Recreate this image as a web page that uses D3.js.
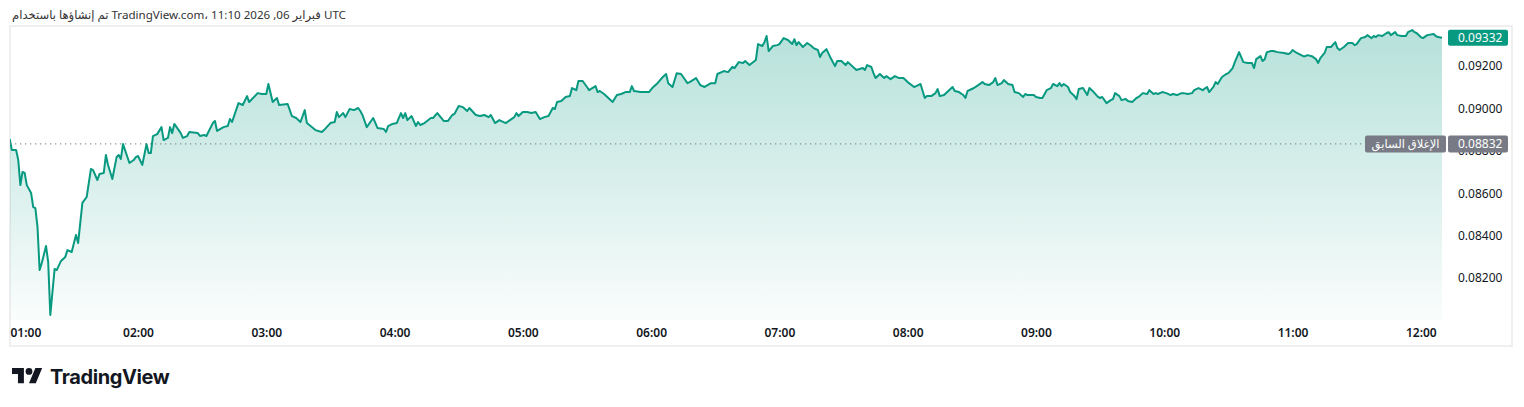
<!DOCTYPE html>
<html lang="ar">
<head>
  <meta charset="UTF-8">
  <title>TradingView snapshot</title>
  <script src="https://d3js.org/d3.v7.min.js"></script>
  <style>
    body {
      margin: 0;
      background: #fff;
      font-family: 'Noto Sans', 'DejaVu Sans', sans-serif;
    }
    svg { display: block; }
  </style>
</head>
<body>
  <svg width="1524" height="407"></svg>

  <script>
    // price series (time of day, price)
    const times = [
      "01:00","01:01","01:03","01:04","01:05","01:06","01:07","01:08","01:10","01:11","01:12","01:13","01:14","01:15","01:17","01:18","01:19","01:21","01:22","01:24",
      "01:26","01:27","01:29","01:31","01:32","01:34","01:36","01:38","01:39","01:41","01:42","01:44","01:45","01:46","01:48","01:50","01:51","01:52","01:53","01:56",
      "01:58","01:59","02:00","02:02","02:04","02:05","02:06","02:07","02:09","02:11","02:12","02:14","02:15","02:16","02:17","02:20","02:21","02:23","02:24","02:28",
      "02:29","02:31","02:32","02:35","02:36","02:37","02:40","02:42","02:43","02:44","02:47","02:49","02:51","02:52","02:56","02:58","03:00","03:01","03:03","03:05",
      "03:06","03:10","03:12","03:14","03:16","03:18","03:19","03:23","03:26","03:27","03:30","03:32","03:33","03:34","03:36","03:37","03:39","03:41","03:43","03:44",
      "03:45","03:47","03:50","03:52","03:55","03:56","03:57","03:59","04:01","04:03","04:04","04:05","04:06","04:08","04:10","04:11","04:12","04:14","04:17","04:18",
      "04:20","04:23","04:25","04:27","04:28","04:30","04:32","04:34","04:35","04:38","04:40","04:42","04:44","04:45","04:47","04:49","04:52","04:54","04:56","04:57",
      "04:58","05:00","05:02","05:04","05:06","05:08","05:10","05:12","05:14","05:15","05:16","05:18","05:20","05:22","05:23","05:25","05:26","05:28","05:30","05:31",
      "05:34","05:35","05:36","05:38","05:40","05:42","05:44","05:46","05:48","05:50","05:51","05:52","05:55","05:57","05:59","06:01","06:03","06:05","06:07","06:08",
      "06:10","06:12","06:14","06:17","06:18","06:21","06:23","06:25","06:28","06:30","06:31","06:34","06:36","06:38","06:39","06:41","06:43","06:44","06:46","06:49",
      "06:50","06:52","06:53","06:54","06:55","06:57","06:59","07:00","07:02","07:04","07:06","07:07","07:08","07:09","07:11","07:13","07:15","07:16","07:18","07:19",
      "07:20","07:22","07:24","07:26","07:27","07:29","07:31","07:32","07:35","07:36","07:39","07:40","07:41","07:43","07:44","07:45","07:47","07:49","07:50","07:52",
      "07:54","07:56","07:58","08:00","08:03","08:04","08:06","08:08","08:09","08:11","08:13","08:14","08:15","08:17","08:19","08:21","08:22","08:24","08:26","08:27",
      "08:28","08:31","08:33","08:35","08:36","08:38","08:40","08:41","08:42","08:44","08:45","08:47","08:49","08:50","08:52","08:54","08:55","08:56","08:59","09:00",
      "09:02","09:03","09:05","09:07","09:08","09:10","09:11","09:12","09:13","09:15","09:16","09:18","09:19","09:20","09:22","09:24","09:25","09:27","09:29","09:30",
      "09:31","09:33","09:35","09:36","09:37","09:39","09:40","09:42","09:43","09:45","09:47","09:48","09:50","09:52","09:53","09:55","09:56","09:57","09:59","10:01",
      "10:03","10:04","10:06","10:08","10:09","10:11","10:13","10:14","10:16","10:17","10:18","10:20","10:21","10:23","10:24","10:25","10:27","10:29","10:30","10:32",
      "10:33","10:34","10:35","10:37","10:39","10:41","10:42","10:43","10:45","10:46","10:47","10:48","10:50","10:51","10:53","10:56","10:58","10:59","11:00","11:02",
      "11:05","11:06","11:07","11:09","11:11","11:12","11:13","11:15","11:16","11:18","11:20","11:21","11:22","11:24","11:26","11:28","11:29","11:30","11:32","11:34",
      "11:35","11:37","11:38","11:39","11:40","11:42","11:44","11:45","11:46","11:48","11:49","11:51","11:53","11:54","11:56","11:57","11:58","12:00","12:01","12:03",
      "12:06","12:07","12:08","12:10"
    ];
    const prices = [
      0.08855,0.08803,0.08803,0.08756,0.08638,0.08700,0.08695,0.08638,0.08601,0.08535,0.08530,0.08441,0.08238,0.08271,0.08351,0.08276,0.08027,0.08243,0.08238,0.08281,
      0.08300,0.08332,0.08323,0.08403,0.08365,0.08554,0.08582,0.08714,0.08709,0.08662,0.08690,0.08695,0.08780,0.08733,0.08667,0.08770,0.08780,0.08761,0.08831,0.08742,
      0.08756,0.08770,0.08775,0.08733,0.08831,0.08789,0.08789,0.08869,0.08878,0.08911,0.08850,0.08860,0.08911,0.08883,0.08926,0.08883,0.08860,0.08869,0.08888,0.08883,
      0.08869,0.08874,0.08869,0.08930,0.08940,0.08893,0.08911,0.08916,0.08949,0.08935,0.09024,0.09015,0.09057,0.09029,0.09071,0.09067,0.09067,0.09114,0.09029,0.09048,
      0.09015,0.09020,0.08963,0.08954,0.08935,0.08991,0.08930,0.08897,0.08888,0.08897,0.08930,0.08935,0.08982,0.08958,0.08977,0.08958,0.08996,0.08991,0.09001,0.08987,
      0.08968,0.08911,0.08954,0.08907,0.08902,0.08888,0.08916,0.08926,0.08930,0.08977,0.08954,0.08977,0.08944,0.08963,0.08916,0.08935,0.08921,0.08930,0.08954,0.08954,
      0.08977,0.08940,0.08940,0.08968,0.08973,0.09010,0.09005,0.08987,0.09001,0.08968,0.08963,0.08968,0.08958,0.08968,0.08930,0.08944,0.08930,0.08944,0.08958,0.08977,
      0.08963,0.08982,0.08982,0.08977,0.08982,0.08949,0.08958,0.08963,0.09001,0.08996,0.09029,0.09034,0.09053,0.09057,0.09095,0.09085,0.09128,0.09128,0.09100,0.09085,
      0.09104,0.09076,0.09081,0.09067,0.09048,0.09029,0.09062,0.09067,0.09076,0.09076,0.09104,0.09081,0.09076,0.09076,0.09076,0.09100,0.09118,0.09142,0.09161,0.09118,
      0.09100,0.09165,0.09161,0.09118,0.09123,0.09142,0.09109,0.09100,0.09118,0.09118,0.09161,0.09175,0.09170,0.09194,0.09189,0.09217,0.09213,0.09222,0.09203,0.09227,
      0.09302,0.09293,0.09311,0.09340,0.09269,0.09293,0.09297,0.09302,0.09330,0.09321,0.09302,0.09325,0.09297,0.09311,0.09288,0.09307,0.09293,0.09283,0.09274,0.09241,
      0.09260,0.09278,0.09236,0.09198,0.09222,0.09222,0.09203,0.09217,0.09189,0.09180,0.09189,0.09180,0.09203,0.09194,0.09165,0.09142,0.09161,0.09142,0.09151,0.09137,
      0.09151,0.09142,0.09142,0.09123,0.09100,0.09104,0.09114,0.09048,0.09057,0.09057,0.09071,0.09090,0.09057,0.09062,0.09081,0.09100,0.09081,0.09076,0.09062,0.09048,
      0.09081,0.09095,0.09109,0.09123,0.09114,0.09109,0.09123,0.09142,0.09109,0.09118,0.09133,0.09114,0.09109,0.09076,0.09071,0.09053,0.09067,0.09062,0.09062,0.09053,
      0.09048,0.09048,0.09085,0.09095,0.09114,0.09104,0.09118,0.09104,0.09114,0.09100,0.09076,0.09057,0.09043,0.09090,0.09095,0.09062,0.09095,0.09076,0.09053,0.09048,
      0.09053,0.09024,0.09038,0.09043,0.09071,0.09057,0.09038,0.09043,0.09034,0.09029,0.09048,0.09053,0.09071,0.09067,0.09085,0.09067,0.09071,0.09067,0.09076,0.09071,
      0.09062,0.09067,0.09062,0.09071,0.09071,0.09067,0.09071,0.09085,0.09095,0.09090,0.09085,0.09100,0.09076,0.09100,0.09123,0.09114,0.09147,0.09161,0.09165,0.09189,
      0.09217,0.09241,0.09264,0.09217,0.09213,0.09213,0.09189,0.09231,0.09245,0.09222,0.09231,0.09264,0.09269,0.09269,0.09264,0.09260,0.09255,0.09260,0.09274,0.09260,
      0.09245,0.09245,0.09250,0.09245,0.09231,0.09213,0.09236,0.09260,0.09288,0.09288,0.09311,0.09283,0.09274,0.09288,0.09307,0.09307,0.09297,0.09302,0.09330,0.09335,
      0.09344,0.09330,0.09340,0.09335,0.09344,0.09340,0.09354,0.09358,0.09344,0.09358,0.09344,0.09340,0.09340,0.09358,0.09368,0.09358,0.09354,0.09335,0.09330,0.09344,
      0.09349,0.09340,0.09335,0.09332
    ];
    const prevClose = 0.08832;
    const priceTicks = [0.082, 0.084, 0.086, 0.088, 0.090, 0.092];
    const timeTicks = ["01:00","02:00","03:00","04:00","05:00","06:00","07:00","08:00","09:00","10:00","11:00","12:00"];
    const headerText = "تم إنشاؤها باستخدام TradingView.com، 11:10 2026 ,06 فبراير UTC";
    const prevCloseLabel = "الإغلاق السابق";

    const green = "#089981";
    const grey = "#787b86";
    const ink = "#131722";

    const parse = d3.timeParse("%H:%M");
    const data = times.map((t, i) => ({ t: parse(t), v: prices[i] }));

    const svg = d3.select("svg");
    const plot = { left: 10, right: 1442, top: 26, bottom: 320 };

    const x = d3.scaleTime()
      .domain(d3.extent(data, d => d.t))
      .range([9.7, 1442.2]);
    const y = d3.scaleLinear()
      .domain([0.08003, 0.09387])
      .range([plot.bottom, plot.top]);

    // header
    svg.append("text")
      .attr("x", 12).attr("y", 19)
      .attr("direction", "ltr")
      .attr("font-size", 11.6)
      .attr("fill", "#333")
      .text(headerText);

    // frame
    svg.append("rect")
      .attr("x", 10).attr("y", 26)
      .attr("width", 1502).attr("height", 320)
      .attr("fill", "none")
      .attr("stroke", "#efefef")
      .attr("stroke-width", 2);

    const defs = svg.append("defs");
    const grad = defs.append("linearGradient")
      .attr("id", "fillGrad")
      .attr("gradientUnits", "userSpaceOnUse")
      .attr("x1", 0).attr("x2", 0)
      .attr("y1", plot.top).attr("y2", plot.bottom);
    grad.append("stop").attr("offset", "0%").attr("stop-color", green).attr("stop-opacity", 0.3);
    grad.append("stop").attr("offset", "100%").attr("stop-color", green).attr("stop-opacity", 0.02);

    defs.append("clipPath").attr("id", "plotClip")
      .append("rect")
      .attr("x", plot.left).attr("y", plot.top)
      .attr("width", plot.right - plot.left).attr("height", plot.bottom - plot.top);

    const g = svg.append("g").attr("clip-path", "url(#plotClip)");

    g.append("path")
      .datum(data)
      .attr("fill", "url(#fillGrad)")
      .attr("d", d3.area().x(d => x(d.t)).y0(plot.bottom).y1(d => y(d.v)));

    // previous close dotted line
    svg.append("line")
      .attr("x1", plot.left).attr("x2", 1365)
      .attr("y1", y(prevClose)).attr("y2", y(prevClose))
      .attr("stroke", grey)
      .attr("stroke-width", 1)
      .attr("stroke-dasharray", "1.3 3.7");

    g.append("path")
      .datum(data)
      .attr("fill", "none")
      .attr("stroke", green)
      .attr("stroke-width", 2)
      .attr("stroke-linejoin", "round")
      .attr("d", d3.line().x(d => x(d.t)).y(d => y(d.v)));

    // price axis (the 0.08800 label sits under the previous-close tag, as in the snapshot)
    const yAxis = svg.append("g")
      .attr("transform", "translate(1458,0)")
      .call(d3.axisRight(y).tickValues(priceTicks).tickFormat(d3.format(".5f")).tickSize(0).tickPadding(0));
    yAxis.select(".domain").remove();
    yAxis.selectAll("text")
      .attr("font-family", "'Noto Sans', sans-serif")
      .attr("font-size", 12)
      .attr("fill", ink);

    // time axis
    const xAxis = svg.append("g")
      .attr("transform", "translate(0,328.5)")
      .call(d3.axisBottom(x).tickValues(timeTicks.map(parse)).tickFormat(d3.timeFormat("%H:%M")).tickSize(0).tickPadding(0));
    xAxis.select(".domain").remove();
    xAxis.selectAll("text")
      .attr("font-family", "'Noto Sans', sans-serif")
      .attr("font-size", 12)
      .attr("font-weight", 600)
      .attr("fill", ink);
    xAxis.selectAll(".tick").filter((d, i) => i === 0).select("text")
      .attr("text-anchor", "start")
      .attr("x", 10 - x(parse(timeTicks[0])));

    // previous close labels
    const yc = y(prevClose);
    svg.append("rect")
      .attr("x", 1365).attr("y", yc - 8.5).attr("width", 81).attr("height", 17)
      .attr("rx", 2).attr("fill", grey);
    svg.append("text")
      .attr("x", 1405.5).attr("y", yc).attr("dy", "0.35em")
      .attr("text-anchor", "middle")
      .attr("font-size", 11.5).attr("fill", "#fff")
      .text(prevCloseLabel);
    svg.append("rect")
      .attr("x", 1448).attr("y", yc - 8.5).attr("width", 60).attr("height", 17)
      .attr("rx", 2).attr("fill", grey);
    svg.append("text")
      .attr("x", 1458).attr("y", yc).attr("dy", "0.35em")
      .attr("font-size", 12).attr("fill", "#fff")
      .text(d3.format(".5f")(prevClose));

    // last price label
    const last = data[data.length - 1];
    const yl = y(last.v);
    svg.append("rect")
      .attr("x", 1448).attr("y", yl - 8).attr("width", 60).attr("height", 16)
      .attr("rx", 2).attr("fill", green);
    svg.append("text")
      .attr("x", 1458).attr("y", yl).attr("dy", "0.35em")
      .attr("font-size", 12).attr("fill", "#fff")
      .text(d3.format(".5f")(last.v));

    // logo
    const logo = svg.append("g").attr("transform", "translate(12,364.6) scale(0.85)");
    logo.append("path")
      .attr("d", "M14 22H7V11H0V4h14v18zM28 22h-8l7.5-18h8L28 22z")
      .attr("fill", ink);
    logo.append("circle").attr("cx", 20).attr("cy", 8).attr("r", 4).attr("fill", ink);
    svg.append("text")
      .attr("x", 50).attr("y", 384)
      .attr("font-family", "Inter, 'Noto Sans', sans-serif")
      .attr("font-size", 20)
      .attr("font-weight", 700)
      .attr("letter-spacing", -0.4)
      .attr("fill", ink)
      .text("TradingView");
  </script>
</body>
</html>
